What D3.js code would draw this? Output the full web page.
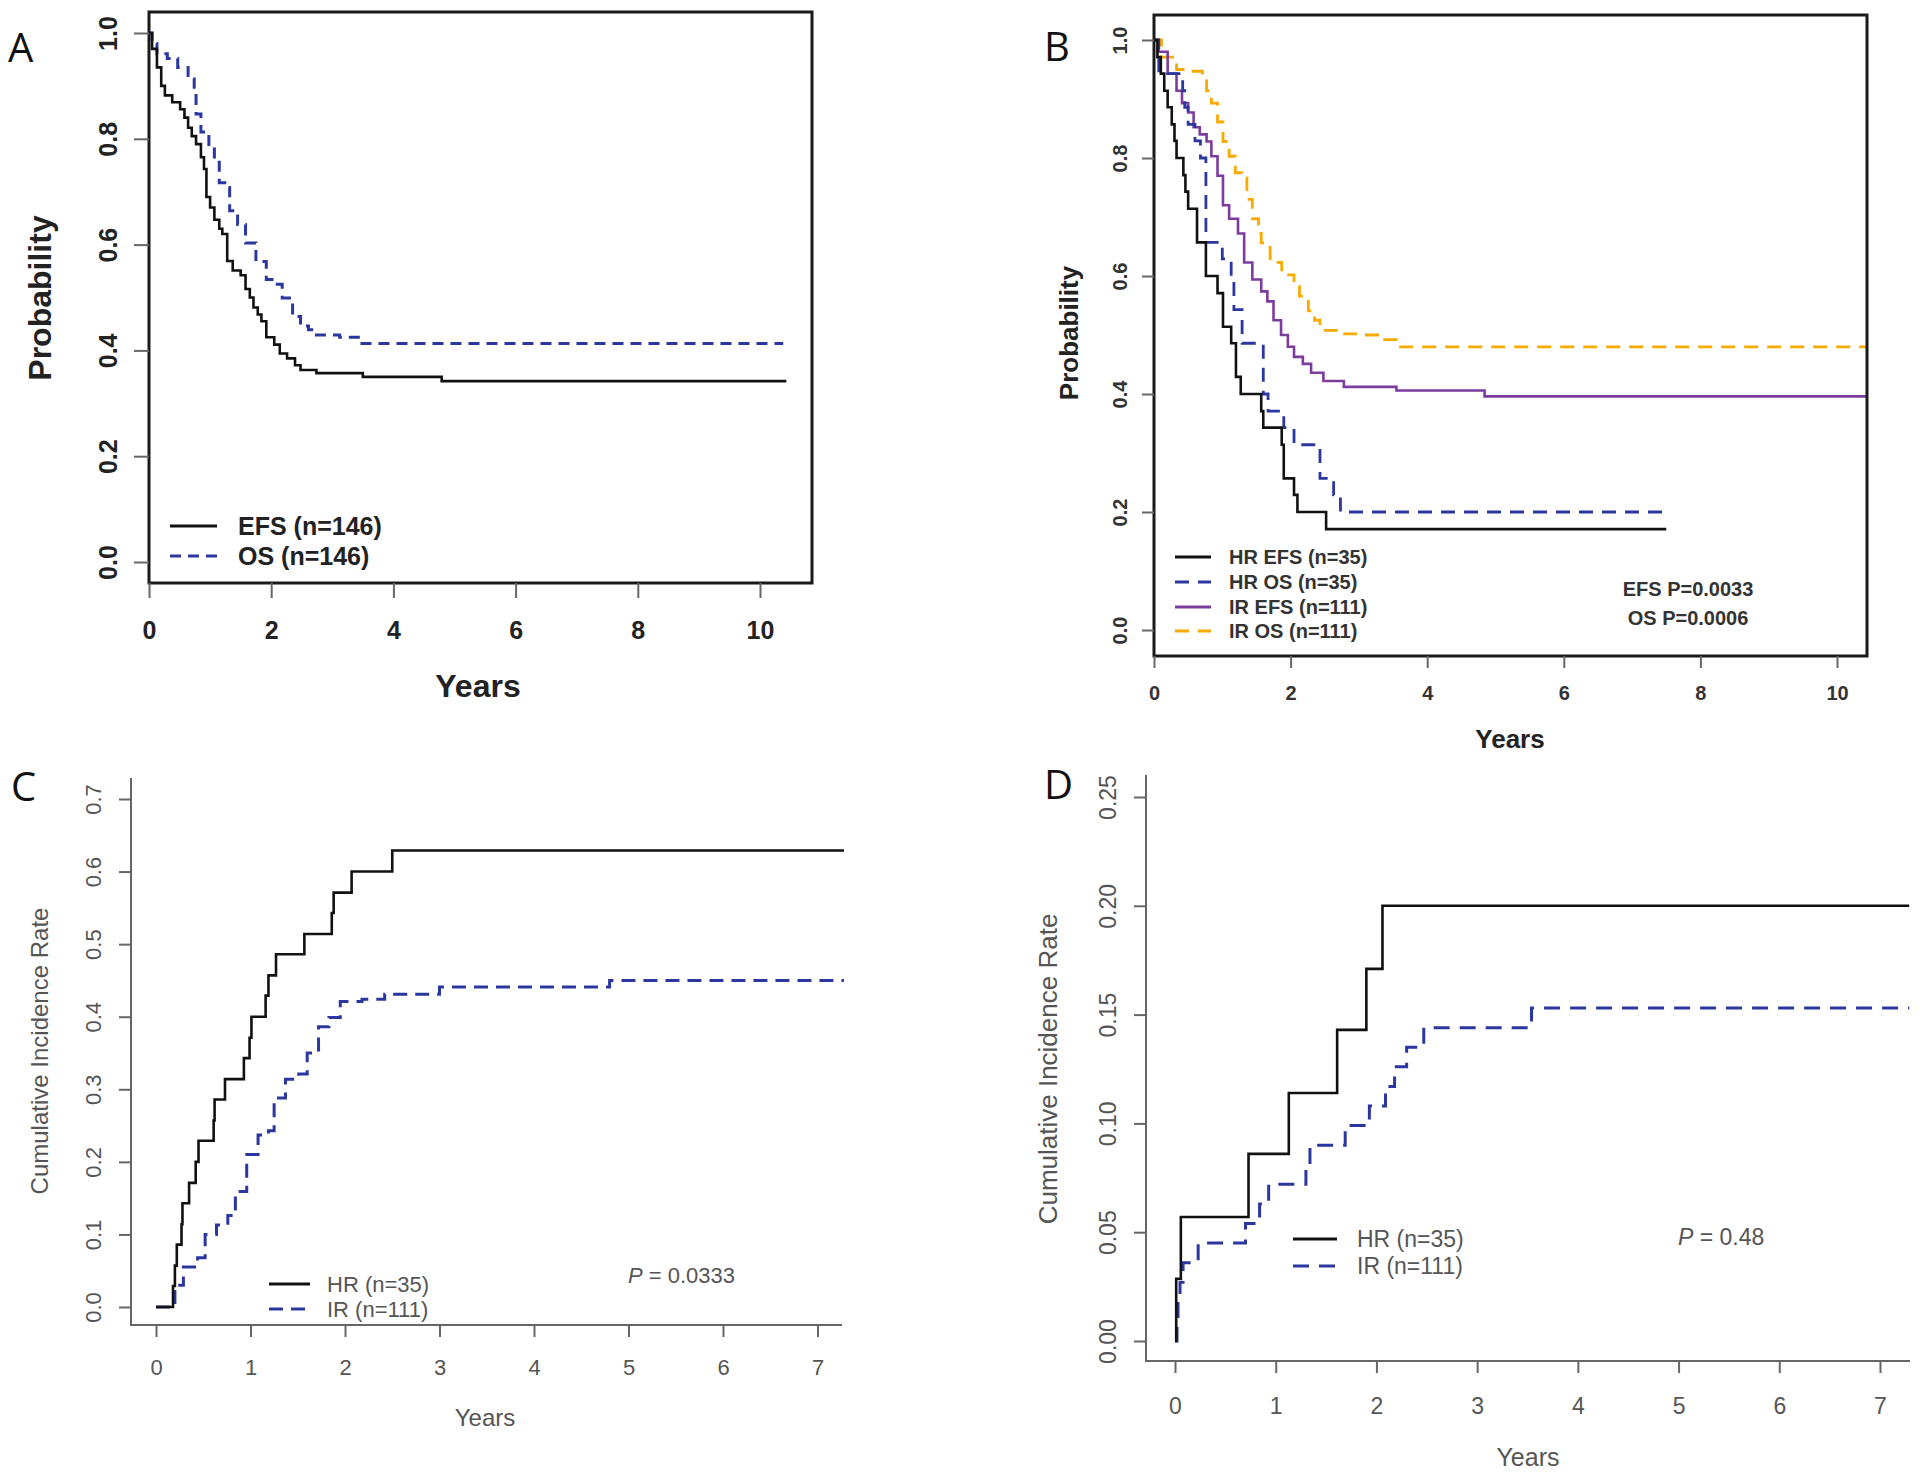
<!DOCTYPE html>
<html><head><meta charset="utf-8">
<script src="https://cdn.jsdelivr.net/npm/d3@7"></script>
<style>body{margin:0;background:#fff} svg{display:block}</style>
</head><body>
<svg id="c" width="1920" height="1477"></svg>
<script>
// ---------- DATA ----------
// Panel A
const xTicksA = [0, 2, 4, 6, 8, 10];
const yTicksA = [0, 0.2, 0.4, 0.6, 0.8, 1.0];
const efsA_t = [0, 0.05, 0.13, 0.2, 0.26, 0.38, 0.51, 0.58, 0.64, 0.7, 0.77, 0.85, 0.9, 0.94, 1.0, 1.07, 1.15, 1.2, 1.28, 1.37, 1.5, 1.58, 1.65, 1.71, 1.78, 1.84, 1.92, 2.05, 2.14, 2.26, 2.39, 2.48, 2.74, 3.5, 4.79, 10.43];
const efsA_s = [1, 0.97, 0.935, 0.9, 0.882, 0.869, 0.856, 0.84, 0.821, 0.805, 0.79, 0.765, 0.743, 0.69, 0.67, 0.647, 0.63, 0.62, 0.569, 0.551, 0.542, 0.516, 0.5, 0.481, 0.468, 0.455, 0.425, 0.411, 0.394, 0.385, 0.372, 0.363, 0.357, 0.35, 0.342, 0.342];
const osA_t = [0, 0.05, 0.13, 0.3, 0.47, 0.64, 0.74, 0.77, 0.85, 0.98, 1.07, 1.15, 1.24, 1.32, 1.45, 1.58, 1.75, 1.92, 2.05, 2.18, 2.35, 2.48, 2.61, 2.74, 3.12, 3.46, 10.38];
const osA_s = [1, 0.98, 0.961, 0.952, 0.935, 0.913, 0.891, 0.847, 0.813, 0.786, 0.76, 0.717, 0.708, 0.664, 0.638, 0.603, 0.568, 0.534, 0.525, 0.499, 0.464, 0.446, 0.439, 0.429, 0.425, 0.413, 0.413];
const legendA = ["EFS (n=146)", "OS (n=146)"];

// Panel B
const xTicksB = [0, 2, 4, 6, 8, 10];
const yTicksB = [0, 0.2, 0.4, 0.6, 0.8, 1.0];
const hrEfsB_t = [0, 0.05, 0.1, 0.15, 0.2, 0.26, 0.3, 0.33, 0.43, 0.46, 0.5, 0.63, 0.76, 0.93, 1.01, 1.13, 1.2, 1.27, 1.57, 1.6, 1.87, 1.9, 2.05, 2.1, 2.52, 7.5];
const hrEfsB_s = [1, 0.971, 0.943, 0.914, 0.886, 0.857, 0.829, 0.8, 0.771, 0.743, 0.714, 0.657, 0.6, 0.571, 0.514, 0.486, 0.429, 0.4, 0.371, 0.343, 0.314, 0.257, 0.229, 0.2, 0.171, 0.171];
const hrOsB_t = [0, 0.07, 0.42, 0.45, 0.5, 0.6, 0.68, 0.76, 1.0, 1.13, 1.17, 1.29, 1.6, 1.67, 1.9, 2.05, 2.43, 2.63, 2.73, 7.5];
const hrOsB_s = [1, 0.943, 0.914, 0.886, 0.857, 0.829, 0.8, 0.657, 0.629, 0.6, 0.543, 0.486, 0.4, 0.371, 0.343, 0.314, 0.257, 0.229, 0.2, 0.2];
const irEfsB_t = [0, 0.07, 0.2, 0.33, 0.41, 0.5, 0.58, 0.67, 0.77, 0.84, 0.93, 1.01, 1.1, 1.23, 1.32, 1.44, 1.57, 1.66, 1.75, 1.86, 1.96, 2.05, 2.18, 2.3, 2.48, 2.78, 3.55, 4.84, 10.43];
const irEfsB_s = [1, 0.98, 0.943, 0.914, 0.893, 0.877, 0.852, 0.84, 0.828, 0.803, 0.77, 0.72, 0.697, 0.672, 0.623, 0.594, 0.574, 0.557, 0.525, 0.5, 0.48, 0.463, 0.451, 0.436, 0.422, 0.412, 0.406, 0.396, 0.396];
const irOsB_t = [0, 0.11, 0.33, 0.5, 0.71, 0.77, 0.84, 0.93, 1.01, 1.1, 1.19, 1.29, 1.36, 1.44, 1.53, 1.57, 1.7, 1.87, 2.05, 2.13, 2.26, 2.35, 2.43, 2.73, 2.99, 3.34, 3.55, 10.43];
const irOsB_s = [1, 0.971, 0.95, 0.947, 0.939, 0.914, 0.893, 0.861, 0.828, 0.803, 0.775, 0.766, 0.73, 0.697, 0.672, 0.656, 0.623, 0.602, 0.582, 0.566, 0.541, 0.525, 0.508, 0.502, 0.5, 0.492, 0.48, 0.48];
const legendB = ["HR EFS (n=35)", "HR OS (n=35)", "IR EFS (n=111)", "IR OS (n=111)"];
const pB = ["EFS P=0.0033", "OS P=0.0006"];

// Panel C
const xTicksC = [0, 1, 2, 3, 4, 5, 6, 7];
const yTicksC = [0, 0.1, 0.2, 0.3, 0.4, 0.5, 0.6, 0.7];
const hrC_t = [0, 0.17, 0.18, 0.2, 0.22, 0.27, 0.28, 0.35, 0.42, 0.45, 0.61, 0.62, 0.73, 0.93, 0.99, 1.01, 1.16, 1.19, 1.27, 1.57, 1.86, 1.88, 2.07, 2.5, 7.28];
const hrC_v = [0, 0, 0.029, 0.057, 0.086, 0.114, 0.143, 0.171, 0.2, 0.229, 0.257, 0.286, 0.314, 0.343, 0.371, 0.4, 0.429, 0.457, 0.486, 0.514, 0.543, 0.571, 0.6, 0.629, 0.629];
const irC_t = [0, 0.175, 0.2, 0.29, 0.44, 0.52, 0.64, 0.76, 0.84, 0.96, 1.08, 1.19, 1.25, 1.37, 1.51, 1.6, 1.72, 1.83, 1.95, 2.18, 2.42, 2.77, 3.0, 4.8, 7.28];
const irC_v = [0, 0, 0.03, 0.055, 0.068, 0.1, 0.113, 0.126, 0.159, 0.21, 0.237, 0.243, 0.288, 0.314, 0.321, 0.35, 0.386, 0.399, 0.421, 0.424, 0.431, 0.431, 0.441, 0.45, 0.45];
const legendC = ["HR (n=35)", "IR (n=111)"];
const pC = "0.0333";

// Panel D
const xTicksD = [0, 1, 2, 3, 4, 5, 6, 7];
const yTicksD = [0, 0.05, 0.10, 0.15, 0.20, 0.25];
const hrD_t = [0, 0.012, 0.058, 0.73, 1.13, 1.61, 1.9, 2.06, 7.29];
const hrD_v = [0, 0.0286, 0.057, 0.086, 0.114, 0.143, 0.171, 0.2, 0.2];
const irD_t = [0, 0.02, 0.03, 0.05, 0.08, 0.23, 0.7, 0.84, 0.93, 1.3, 1.34, 1.69, 1.93, 2.09, 2.18, 2.3, 2.47, 3.54, 7.29];
const irD_v = [0, 0.009, 0.018, 0.027, 0.036, 0.045, 0.054, 0.063, 0.072, 0.081, 0.09, 0.099, 0.108, 0.117, 0.126, 0.135, 0.144, 0.153, 0.153];
const legendD = ["HR (n=35)", "IR (n=111)"];
const pD = "0.48";

// ---------- DRAWING ----------
const svg = d3.select("#c");
const BLUE = "#2B379E", PURPLE = "#7B3C9E", ORANGE = "#F9AA00", BLACK = "#111";
const BOLD = "'Liberation Sans', Arial, sans-serif";
const GREY = "#555";

function stepLine(g, xs, ys, t, v, color, w, dash) {
  const pts = t.map((d, i) => [d, v[i]]);
  const line = d3.line().x(d => xs(d[0])).y(d => ys(d[1])).curve(d3.curveStepAfter);
  g.append("path").attr("d", line(pts)).attr("fill", "none")
    .attr("stroke", color).attr("stroke-width", w)
    .attr("stroke-dasharray", dash || null).attr("stroke-linejoin", "miter").attr("stroke-linecap", "butt");
}
function txt(x, y, s, o) {
  const t = svg.append("text").attr("x", x).attr("y", y).text(s)
    .attr("font-family", o.family || BOLD).attr("font-size", o.size)
    .attr("font-weight", o.weight || "normal").attr("fill", o.fill || "#111")
    .attr("text-anchor", o.anchor || "start");
  if (o.rotate) t.attr("transform", `rotate(-90,${x},${y})`);
  return t;
}
function xAxis(xs, ticks, y0, len, off, size, weight, fill, tickColor, fmt) {
  const g = svg.append("g").attr("transform", `translate(0,${y0})`)
    .call(d3.axisBottom(xs).tickValues(ticks).tickSize(len).tickFormat(fmt));
  g.select(".domain").remove();
  g.selectAll(".tick line").attr("stroke", tickColor).attr("stroke-width", 2);
  g.selectAll(".tick text").attr("y", off).attr("dy", "0.36em")
    .attr("font-family", BOLD).attr("font-size", size).attr("font-weight", weight).attr("fill", fill);
  g.attr("font-family", null).attr("font-size", null);
}
function yAxis(ys, ticks, x0, len, off, size, weight, fill, tickColor, fmt) {
  const g = svg.append("g").attr("transform", `translate(${x0},0)`)
    .call(d3.axisLeft(ys).tickValues(ticks).tickSize(len).tickFormat(fmt));
  g.select(".domain").remove();
  g.selectAll(".tick line").attr("stroke", tickColor).attr("stroke-width", 2);
  g.selectAll(".tick text").attr("x", 0).attr("y", -off).attr("dy", 0)
    .attr("text-anchor", "middle").attr("transform", "rotate(-90)")
    .attr("font-family", BOLD).attr("font-size", size).attr("font-weight", weight).attr("fill", fill);
  g.attr("font-family", null).attr("font-size", null);
}
function legLine(x1, x2, y, color, dash) {
  svg.append("line").attr("x1", x1).attr("x2", x2).attr("y1", y).attr("y2", y)
    .attr("stroke", color).attr("stroke-width", 3).attr("stroke-dasharray", dash || null);
}

// ===== Panel A =====
{
  const box = {l: 149, r: 812, t: 12, b: 583};
  const x = d3.scaleLinear().domain([0, 10]).range([149, 760]);
  const y = d3.scaleLinear().domain([0, 1]).range([562, 33]);
  const g = svg.append("g");
  stepLine(g, x, y, osA_t, osA_s, BLUE, 3, "11,7");
  stepLine(g, x, y, efsA_t, efsA_s, BLACK, 2.6);
  svg.append("rect").attr("x", box.l).attr("y", box.t).attr("width", box.r - box.l).attr("height", box.b - box.t)
    .attr("fill", "none").attr("stroke", "#1a1a1a").attr("stroke-width", 3);
  xAxis(x, xTicksA, box.b, 15, 47, 25, "bold", "#222", "#666", d3.format("d"));
  yAxis(y, yTicksA, box.l, 15, 32, 25, "bold", "#222", "#666", d3.format(".1f"));
  txt(478, 697, "Years", {size: 32, weight: "bold", anchor: "middle", fill: "#222"});
  txt(51, 298, "Probability", {size: 32, weight: "bold", anchor: "middle", rotate: true, fill: "#222"});
  legLine(170, 217, 526, BLACK);
  legLine(170, 217, 556, BLUE, "11,7");
  txt(238, 526, legendA[0], {size: 25, weight: "bold", fill: "#222"}).attr("dy", "0.36em");
  txt(238, 556, legendA[1], {size: 25, weight: "bold", fill: "#222"}).attr("dy", "0.36em");
  txt(8, 62, "A", {size: 40, family: "'Open Sans', sans-serif"});
}

// ===== Panel B =====
{
  const box = {l: 1154, r: 1867, t: 15, b: 656};
  const x = d3.scaleLinear().domain([0, 10]).range([1154, 1837]);
  const y = d3.scaleLinear().domain([0, 1]).range([630, 40]);
  const g = svg.append("g");
  stepLine(g, x, y, irOsB_t, irOsB_s, ORANGE, 2.8, "14,9");
  stepLine(g, x, y, irEfsB_t, irEfsB_s, PURPLE, 2.6);
  stepLine(g, x, y, hrOsB_t, hrOsB_s, BLUE, 2.8, "14,9");
  stepLine(g, x, y, hrEfsB_t, hrEfsB_s, BLACK, 2.6);
  svg.append("rect").attr("x", box.l).attr("y", box.t).attr("width", box.r - box.l).attr("height", box.b - box.t)
    .attr("fill", "none").attr("stroke", "#1a1a1a").attr("stroke-width", 3);
  xAxis(x, xTicksB, box.b, 12, 37, 20, "bold", "#333", "#666", d3.format("d"));
  yAxis(y, yTicksB, box.l, 12, 27, 20, "bold", "#333", "#666", d3.format(".1f"));
  txt(1510, 748, "Years", {size: 26, weight: "bold", anchor: "middle", fill: "#222"});
  txt(1078, 333, "Probability", {size: 26, weight: "bold", anchor: "middle", rotate: true, fill: "#222"});
  const cols = [BLACK, BLUE, PURPLE, ORANGE], dashes = [null, "14,9", null, "14,9"], ly = [557, 582, 607, 631];
  legendB.forEach((s, i) => {
    legLine(1175, 1211, ly[i], cols[i], dashes[i]);
    txt(1229, ly[i], s, {size: 20, weight: "bold", fill: "#333"}).attr("dy", "0.36em");
  });
  txt(1688, 589, pB[0], {size: 20, weight: "bold", anchor: "middle", fill: "#333"}).attr("dy", "0.36em");
  txt(1688, 618, pB[1], {size: 20, weight: "bold", anchor: "middle", fill: "#333"}).attr("dy", "0.36em");
  txt(1044, 61, "B", {size: 40, family: "'Open Sans', sans-serif"});
}

// ===== Panel C =====
{
  const x = d3.scaleLinear().domain([0, 7]).range([156, 817.5]);
  const y = d3.scaleLinear().domain([0, 0.7]).range([1307, 799]);
  const g = svg.append("g");
  stepLine(g, x, y, irC_t, irC_v, BLUE, 3, "14,8");
  stepLine(g, x, y, hrC_t, hrC_v, BLACK, 2.6);
  svg.append("path").attr("d", "M131,778V1325H842").attr("fill", "none").attr("stroke", "#666").attr("stroke-width", 2);
  xAxis(x, xTicksC, 1325, 12, 42, 22, "normal", GREY, "#666", d3.format("d"));
  yAxis(y, yTicksC, 131, 12, 30, 22, "normal", GREY, "#666", d3.format(".1f"));
  txt(485, 1426, "Years", {size: 24, anchor: "middle", fill: GREY});
  txt(48, 1051, "Cumulative Incidence Rate", {size: 24, anchor: "middle", rotate: true, fill: GREY});
  legLine(269, 310, 1284, BLACK);
  legLine(269, 310, 1309, BLUE, "14,8");
  txt(327, 1284, legendC[0], {size: 22, fill: GREY}).attr("dy", "0.36em");
  txt(327, 1309, legendC[1], {size: 22, fill: GREY}).attr("dy", "0.36em");
  const p = txt(628, 1275, "", {size: 22, fill: GREY}).attr("dy", "0.36em");
  p.append("tspan").attr("font-style", "italic").text("P");
  p.append("tspan").text(" = " + pC);
  txt(11, 801, "C", {size: 40, family: "'Open Sans', sans-serif"});
}

// ===== Panel D =====
{
  const x = d3.scaleLinear().domain([0, 7]).range([1175, 1880]);
  const y = d3.scaleLinear().domain([0, 0.25]).range([1341, 797]);
  const g = svg.append("g");
  stepLine(g, x, y, irD_t, irD_v, BLUE, 3, "16,10");
  stepLine(g, x, y, hrD_t, hrD_v, BLACK, 2.6);
  svg.append("path").attr("d", "M1146,775V1361H1910").attr("fill", "none").attr("stroke", "#666").attr("stroke-width", 2);
  xAxis(x, xTicksD, 1361, 12, 45, 23, "normal", GREY, "#666", d3.format("d"));
  yAxis(y, yTicksD, 1146, 12, 30, 23, "normal", GREY, "#666", d3.format(".2f"));
  txt(1528, 1466, "Years", {size: 25, anchor: "middle", fill: GREY});
  txt(1057, 1069, "Cumulative Incidence Rate", {size: 26, anchor: "middle", rotate: true, fill: GREY});
  legLine(1293, 1337, 1239, BLACK);
  legLine(1293, 1337, 1266, BLUE, "16,10");
  txt(1357, 1239, legendD[0], {size: 23, fill: GREY}).attr("dy", "0.36em");
  txt(1357, 1266, legendD[1], {size: 23, fill: GREY}).attr("dy", "0.36em");
  const p = txt(1678, 1237, "", {size: 23, fill: GREY}).attr("dy", "0.36em");
  p.append("tspan").attr("font-style", "italic").text("P");
  p.append("tspan").text(" = " + pD);
  txt(1044, 799, "D", {size: 40, family: "'Open Sans', sans-serif"});
}
</script>
</body></html>
